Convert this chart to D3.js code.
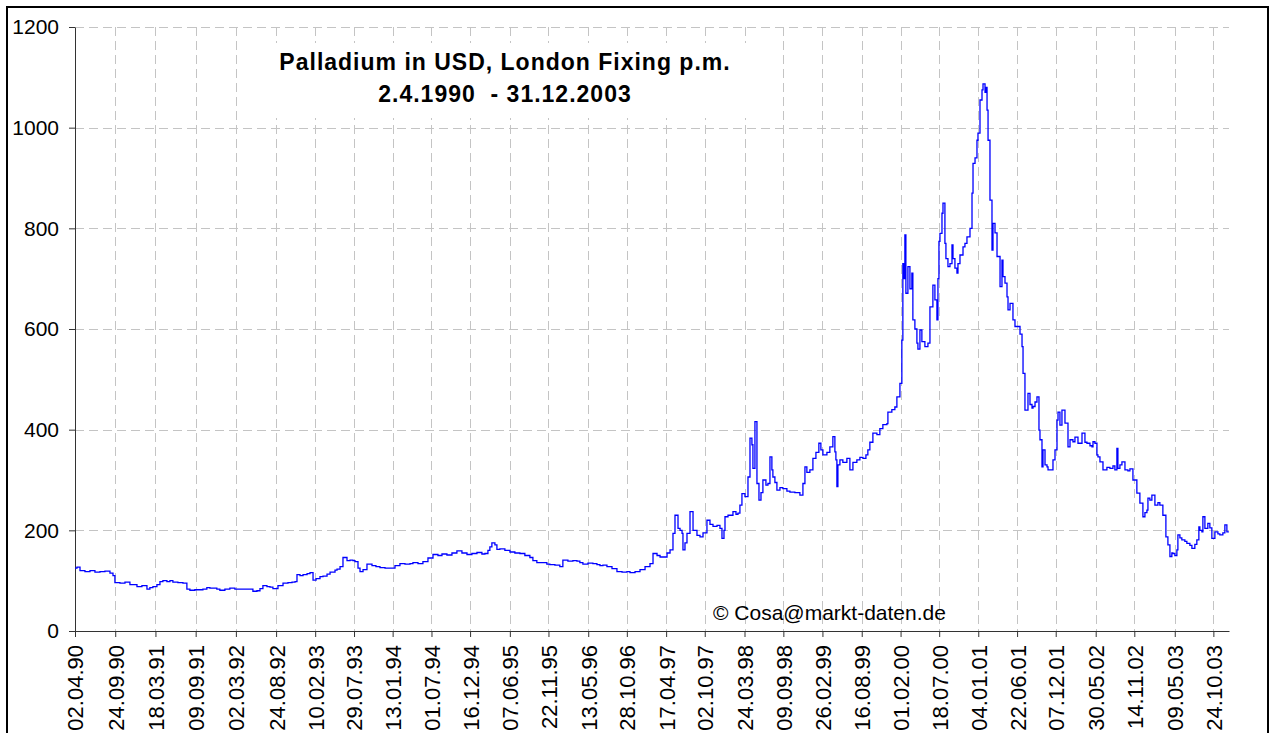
<!DOCTYPE html>
<html>
<head>
<meta charset="utf-8">
<script src="https://cdn.jsdelivr.net/npm/d3@7"></script>
<style>
  body { margin: 0; background: #fff; }
  svg { display: block; font-family: "Liberation Sans", Arial, sans-serif; }
</style>
</head>
<body>
<svg id="chart" width="1278" height="733"></svg>
<script>
// fixing dates on the category axis (dd.mm.yy)
const tickLabels = ["02.04.90", "24.09.90", "18.03.91", "09.09.91", "02.03.92", "24.08.92",
    "10.02.93", "29.07.93", "13.01.94", "01.07.94", "16.12.94", "07.06.95", "22.11.95",
    "13.05.96", "28.10.96", "17.04.97", "02.10.97", "24.03.98", "09.09.98", "26.02.99",
    "16.08.99", "01.02.00", "18.07.00", "04.01.01", "22.06.01", "07.12.01", "30.05.02",
    "14.11.02", "09.05.03", "24.10.03"];
const yTicks = [0, 200, 400, 600, 800, 1000, 1200];

// price readings, time as decimal year, value in USD/oz
const years = [
    1990.249, 1990.273, 1990.309, 1990.368, 1990.428, 1990.487, 1990.547, 1990.606, 1990.666, 1990.702,
    1990.725, 1990.785, 1990.845, 1990.904, 1990.988, 1991.047, 1991.107, 1991.142, 1991.178, 1991.226,
    1991.262, 1991.297, 1991.345, 1991.381, 1991.416, 1991.476, 1991.536, 1991.583, 1991.619, 1991.678,
    1991.738, 1991.774, 1991.821, 1991.857, 1991.893, 1991.940, 1991.976, 1992.036, 1992.095, 1992.155,
    1992.214, 1992.274, 1992.334, 1992.369, 1992.417, 1992.453, 1992.488, 1992.536, 1992.572, 1992.607,
    1992.667, 1992.727, 1992.786, 1992.834, 1992.870, 1992.893, 1992.929, 1992.965, 1993.013, 1993.048,
    1993.084, 1993.120, 1993.167, 1993.203, 1993.251, 1993.287, 1993.346, 1993.370, 1993.406, 1993.441,
    1993.489, 1993.525, 1993.560, 1993.584, 1993.620, 1993.644, 1993.680, 1993.727, 1993.787, 1993.834,
    1993.882, 1993.942, 1994.001, 1994.061, 1994.120, 1994.180, 1994.240, 1994.275, 1994.335, 1994.394,
    1994.454, 1994.514, 1994.573, 1994.621, 1994.680, 1994.740, 1994.799, 1994.859, 1994.919, 1994.978,
    1995.038, 1995.097, 1995.133, 1995.169, 1995.192, 1995.216, 1995.252, 1995.276, 1995.311, 1995.371,
    1995.431, 1995.490, 1995.550, 1995.609, 1995.669, 1995.705, 1995.752, 1995.812, 1995.871, 1995.907,
    1995.967, 1996.026, 1996.062, 1996.122, 1996.181, 1996.229, 1996.264, 1996.300, 1996.360, 1996.419,
    1996.467, 1996.503, 1996.538, 1996.586, 1996.646, 1996.705, 1996.765, 1996.824, 1996.860, 1996.920,
    1996.979, 1997.039, 1997.098, 1997.134, 1997.182, 1997.218, 1997.253, 1997.301, 1997.337, 1997.372,
    1997.396, 1997.432, 1997.456, 1997.480, 1997.491, 1997.515, 1997.539, 1997.575, 1997.611, 1997.658,
    1997.694, 1997.730, 1997.777, 1997.813, 1997.849, 1997.897, 1997.932, 1997.956, 1997.980, 1997.992,
    1998.028, 1998.087, 1998.123, 1998.147, 1998.170, 1998.194, 1998.230, 1998.266, 1998.290, 1998.313,
    1998.325, 1998.349, 1998.373, 1998.397, 1998.421, 1998.444, 1998.480, 1998.504, 1998.528, 1998.551,
    1998.563, 1998.587, 1998.611, 1998.647, 1998.682, 1998.730, 1998.766, 1998.825, 1998.885, 1998.921,
    1998.945, 1998.968, 1999.004, 1999.040, 1999.076, 1999.111, 1999.135, 1999.159, 1999.207, 1999.242,
    1999.278, 1999.302, 1999.314, 1999.326, 1999.338, 1999.362, 1999.397, 1999.445, 1999.481, 1999.517,
    1999.564, 1999.600, 1999.636, 1999.672, 1999.695, 1999.719, 1999.755, 1999.803, 1999.838, 1999.874,
    1999.922, 1999.934, 1999.981, 2000.017, 2000.041, 2000.077, 2000.100, 2000.112, 2000.124, 2000.136,
    2000.148, 2000.172, 2000.196, 2000.219, 2000.231, 2000.255, 2000.279, 2000.291, 2000.315, 2000.338,
    2000.374, 2000.410, 2000.434, 2000.469, 2000.493, 2000.517, 2000.529, 2000.541, 2000.553, 2000.577,
    2000.589, 2000.612, 2000.624, 2000.648, 2000.672, 2000.696, 2000.708, 2000.731, 2000.755, 2000.767,
    2000.791, 2000.827, 2000.850, 2000.874, 2000.910, 2000.934, 2000.946, 2000.970, 2000.993, 2001.005,
    2001.029, 2001.053, 2001.065, 2001.089, 2001.101, 2001.113, 2001.125, 2001.148, 2001.172, 2001.184,
    2001.208, 2001.232, 2001.268, 2001.291, 2001.303, 2001.327, 2001.351, 2001.363, 2001.387, 2001.411,
    2001.422, 2001.446, 2001.482, 2001.506, 2001.530, 2001.542, 2001.565, 2001.601, 2001.625, 2001.649,
    2001.661, 2001.685, 2001.708, 2001.720, 2001.732, 2001.744, 2001.768, 2001.780, 2001.804, 2001.828,
    2001.840, 2001.863, 2001.899, 2001.923, 2001.947, 2001.959, 2001.982, 2002.006, 2002.042, 2002.078,
    2002.102, 2002.137, 2002.161, 2002.197, 2002.245, 2002.280, 2002.304, 2002.340, 2002.364, 2002.376,
    2002.399, 2002.423, 2002.435, 2002.459, 2002.495, 2002.542, 2002.578, 2002.614, 2002.637, 2002.661,
    2002.673, 2002.697, 2002.721, 2002.757, 2002.792, 2002.816, 2002.852, 2002.899, 2002.935, 2002.971,
    2002.995, 2003.019, 2003.031, 2003.054, 2003.078, 2003.114, 2003.150, 2003.173, 2003.209, 2003.245,
    2003.269, 2003.293, 2003.316, 2003.328, 2003.352, 2003.376, 2003.388, 2003.412, 2003.435, 2003.471,
    2003.495, 2003.531, 2003.555, 2003.590, 2003.614, 2003.638, 2003.650, 2003.674, 2003.686, 2003.710,
    2003.745, 2003.769, 2003.793, 2003.829, 2003.865, 2003.888, 2003.924, 2003.948, 2003.972, 2003.996
];
const prices = [
    125, 127, 120, 118, 120, 117, 118, 119, 115, 110,
    96, 95, 97, 92, 88, 90, 83, 86, 88, 92,
    98, 100, 98, 100, 97, 96, 95, 83, 81, 82,
    82, 83, 86, 85, 85, 83, 81, 83, 85, 83,
    83, 83, 83, 79, 80, 84, 90, 88, 87, 84,
    90, 95, 96, 97, 98, 112, 110, 112, 114, 116,
    101, 104, 108, 109, 113, 117, 121, 123, 128, 146,
    140, 141, 140, 138, 125, 118, 122, 133, 130, 128,
    126, 125, 125, 130, 134, 133, 134, 136, 134, 138,
    145, 152, 150, 153, 151, 155, 159, 155, 152, 154,
    156, 153, 154, 160, 167, 175, 171, 162, 163, 160,
    157, 155, 154, 150, 146, 140, 136, 136, 133, 132,
    131, 128, 141, 139, 140, 139, 136, 133, 135, 134,
    132, 130, 131, 128, 124, 118, 117, 118, 116, 118,
    122, 128, 134, 154, 150, 147, 147, 155, 161, 194,
    230, 204, 200, 194, 161, 175, 194, 237, 200, 190,
    187, 195, 220, 212, 208, 210, 204, 184, 200, 227,
    230, 237, 232, 234, 250, 273, 267, 306, 383, 370,
    323, 416, 293, 260, 275, 300, 290, 293, 346, 320,
    306, 295, 280, 285, 283, 278, 276, 275, 270, 293,
    326, 315, 320, 343, 355, 373, 360, 350, 355, 366,
    386, 356, 340, 287, 330, 340, 335, 343, 320, 335,
    340, 345, 343, 350, 360, 375, 393, 390, 402, 410,
    412, 435, 440, 445, 465, 492, 578, 730, 700, 787,
    671, 724, 680, 711, 618, 600, 572, 560, 598, 575,
    565, 572, 644, 687, 658, 618, 700, 774, 790, 830,
    850, 770, 740, 724, 730, 767, 740, 721, 711, 730,
    747, 763, 770, 783, 800, 870, 929, 940, 975, 989,
    1055, 1075, 1087, 1070, 1080, 1035, 975, 856, 757, 810,
    791, 744, 684, 737, 704, 691, 664, 638, 651, 651,
    618, 605, 605, 590, 565, 512, 439, 472, 450, 443,
    446, 455, 465, 465, 399, 380, 326, 360, 330, 326,
    320, 320, 340, 360, 419, 435, 409, 439, 413, 366,
    380, 376, 385, 373, 393, 375, 373, 368, 366, 376,
    373, 350, 346, 336, 320, 325, 323, 328, 320, 363,
    323, 330, 336, 320, 318, 322, 300, 274, 254, 227,
    235, 240, 264, 260, 270, 250, 255, 250, 230, 187,
    171, 148, 155, 154, 150, 161, 191, 185, 181, 178,
    174, 170, 164, 172, 181, 207, 200, 197, 227, 204,
    214, 205, 184, 197, 193, 191, 195, 211, 197, 197
];

const parseTick = d3.utcParse("%d.%m.%y");
const formatTick = d3.utcFormat("%d.%m.%y");

function fromDecimalYear(v) {
    const yr = Math.floor(v);
    const start = Date.UTC(yr, 0, 1), end = Date.UTC(yr + 1, 0, 1);
    return new Date(start + (v - yr) * (end - start));
}

const data = years.map((t, i) => ({ date: fromDecimalYear(t), price: prices[i] }));

const svg = d3.select("#chart");
const plot = { left: 75, right: 1229, top: 27, bottom: 631 };

const x = d3.scaleUtc()
    .domain([new Date(Date.UTC(1990, 3, 2)), new Date(Date.UTC(2003, 11, 31))])
    .range([plot.left, plot.right]);

const y = d3.scaleLinear()
    .domain([0, 1200])
    .range([plot.bottom, plot.top]);

const tickDates = tickLabels.map(parseTick);

// outer frame
svg.append("rect")
    .attr("x", 7).attr("y", 7)
    .attr("width", 1261).attr("height", 760)
    .attr("fill", "none")
    .attr("stroke", "#000")
    .attr("stroke-width", 2);

// grid
const grid = svg.append("g")
    .attr("stroke", "#c4c4c4")
    .attr("stroke-width", 1)
    .attr("stroke-dasharray", "9,5");

grid.selectAll(".hgrid")
    .data(yTicks.filter(d => d > 0))
    .join("line")
    .attr("x1", plot.left)
    .attr("x2", plot.right)
    .attr("y1", d => Math.round(y(d)) + 0.5)
    .attr("y2", d => Math.round(y(d)) + 0.5);

grid.selectAll(".vgrid")
    .data(tickDates.slice(1))
    .join("line")
    .attr("x1", d => Math.round(x(d)) + 0.5)
    .attr("x2", d => Math.round(x(d)) + 0.5)
    .attr("y1", plot.top)
    .attr("y2", plot.bottom);

// white panel behind the title
svg.append("rect")
    .attr("x", 255).attr("y", 43)
    .attr("width", 495).attr("height", 75)
    .attr("fill", "#fff");

const title = svg.append("text")
    .attr("x", 505)
    .attr("text-anchor", "middle")
    .style("font-weight", "bold")
    .style("font-size", "23px")
    .style("letter-spacing", "1px")
    .style("white-space", "pre")
    .attr("fill", "#000");
title.append("tspan").attr("x", 505).attr("y", 70).text("Palladium in USD, London Fixing p.m.");
title.append("tspan").attr("x", 505).attr("y", 102).text("2.4.1990  - 31.12.2003");

// y axis
const yAxis = svg.append("g")
    .attr("transform", `translate(${plot.left},0)`)
    .call(d3.axisLeft(y).tickValues(yTicks).tickFormat(d3.format("d"))
        .tickSize(6).tickSizeOuter(0).tickPadding(10));
yAxis.selectAll("path, line").attr("stroke", "#333");
yAxis.selectAll("text")
    .attr("fill", "#000")
    .style("font-size", "21px")
    .style("font-family", "'Liberation Sans', Arial, sans-serif");

// x axis
const xAxis = svg.append("g")
    .attr("transform", `translate(0,${plot.bottom})`)
    .call(d3.axisBottom(x).tickValues(tickDates).tickFormat(formatTick).tickSize(6).tickSizeOuter(0));
xAxis.selectAll("path, line").attr("stroke", "#333");
xAxis.selectAll("text")
    .attr("transform", "rotate(-90)")
    .attr("x", -14)
    .attr("y", 0)
    .attr("dy", "0.36em")
    .style("text-anchor", "end")
    .attr("fill", "#000")
    .style("font-size", "22px")
    .style("font-family", "'Liberation Sans', Arial, sans-serif");

// price line
svg.append("path")
    .datum(data)
    .attr("fill", "none")
    .attr("stroke", "#0000ff")
    .attr("stroke-width", 1.3)
    .attr("d", d3.line()
        .x(d => x(d.date))
        .y(d => y(d.price))
        .curve(d3.curveStepAfter));

svg.append("text")
    .attr("x", 713)
    .attr("y", 620)
    .style("font-size", "21px")
    .attr("fill", "#000")
    .text("© Cosa@markt-daten.de");
</script>
</body>
</html>
